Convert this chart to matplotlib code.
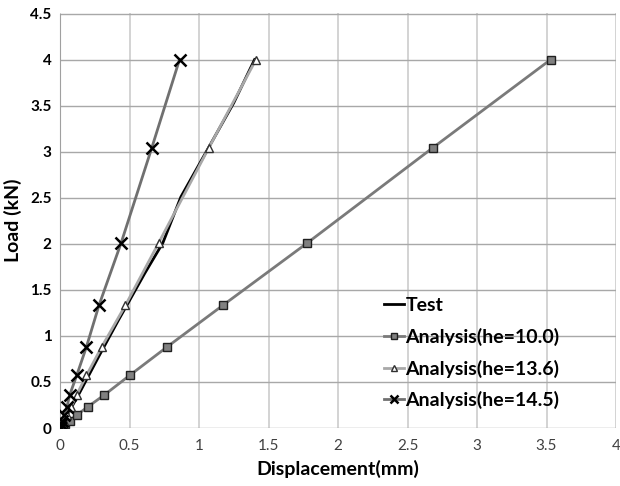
import numpy as np
import matplotlib.pyplot as plt

plt.rcParams['font.family'] = ['Lato', 'DejaVu Sans']

loads = [0, 0.005, 0.015, 0.04, 0.08, 0.14, 0.23, 0.36, 0.57, 0.88, 1.33, 2.01, 3.04, 4.0]
disp_he10 = [0, 0.005, 0.013, 0.035, 0.07, 0.12, 0.20, 0.32, 0.50, 0.77, 1.17, 1.78, 2.68, 3.53]
disp_he136 = [0, 0.002, 0.005, 0.014, 0.028, 0.05, 0.08, 0.12, 0.19, 0.30, 0.47, 0.71, 1.07, 1.41]
disp_he145 = [0, 0.001, 0.003, 0.009, 0.017, 0.03, 0.05, 0.07, 0.12, 0.19, 0.28, 0.44, 0.66, 0.86]

test_disp = [0, 0.14, 0.28, 0.42, 0.48, 0.61, 0.74, 0.87, 1.06, 1.25, 1.40]
test_load = [0, 0.38, 0.78, 1.17, 1.33, 1.68, 2.01, 2.51, 3.02, 3.53, 4.0]

fig = plt.figure(figsize=(6.2, 4.86), dpi=100)
ax = fig.add_axes([60/620, 58/486, 556/620, 414.5/486])

ax.plot(test_disp, test_load, color='black', lw=2, label='Test', zorder=3)
ax.plot(disp_he10, loads, color='#7a7a7a', lw=2, marker='s', ms=6,
        mfc='#808080', mec='#202020', mew=1, label='Analysis(he=10.0)', zorder=4)
ax.plot(disp_he136, loads, color='#a8a8a8', lw=2, marker='^', ms=6,
        mfc='white', mec='#303030', mew=1, label='Analysis(he=13.6)', zorder=4)
ax.plot(disp_he145, loads, color='#707070', lw=2, marker='x', ms=8,
        mec='black', mew=1.8, label='Analysis(he=14.5)', zorder=5)

ax.set_xlim(0, 4)
ax.set_ylim(0, 4.5)
ax.set_xticks(np.arange(0, 4.01, 0.5))
ax.set_yticks(np.arange(0, 4.51, 0.5))
ax.set_xticklabels(['0', '0.5', '1', '1.5', '2', '2.5', '3', '3.5', '4'])
ax.set_yticklabels(['0', '0.5', '1', '1.5', '2', '2.5', '3', '3.5', '4', '4.5'],
                   fontweight='bold')
ax.tick_params(length=0, labelsize=11, colors='#404040')
ax.tick_params(axis='y', colors='black', pad=6)
ax.tick_params(axis='x', pad=8)

ax.xaxis.grid(True, color='#cccccc', lw=1.2)
ax.yaxis.grid(True, color='#a8a8a8', lw=1)
ax.set_axisbelow(True)
for s in ['top', 'right', 'bottom']:
    ax.spines[s].set_visible(False)
ax.spines['left'].set_color('#a0a0a0')

ax.set_xlabel('Displacement(mm)', fontsize=14, fontweight='bold', labelpad=5)
ax.set_ylabel('Load (kN)', fontsize=14, fontweight='bold', labelpad=6)

ax.legend(loc='lower right', bbox_to_anchor=(0.93, 0.003), frameon=False,
          handlelength=1.0, handletextpad=0.1, labelspacing=0.7,
          markerscale=0.7, prop={'size': 14, 'weight': 'bold'})

fig.savefig('out.png', dpi=100)
